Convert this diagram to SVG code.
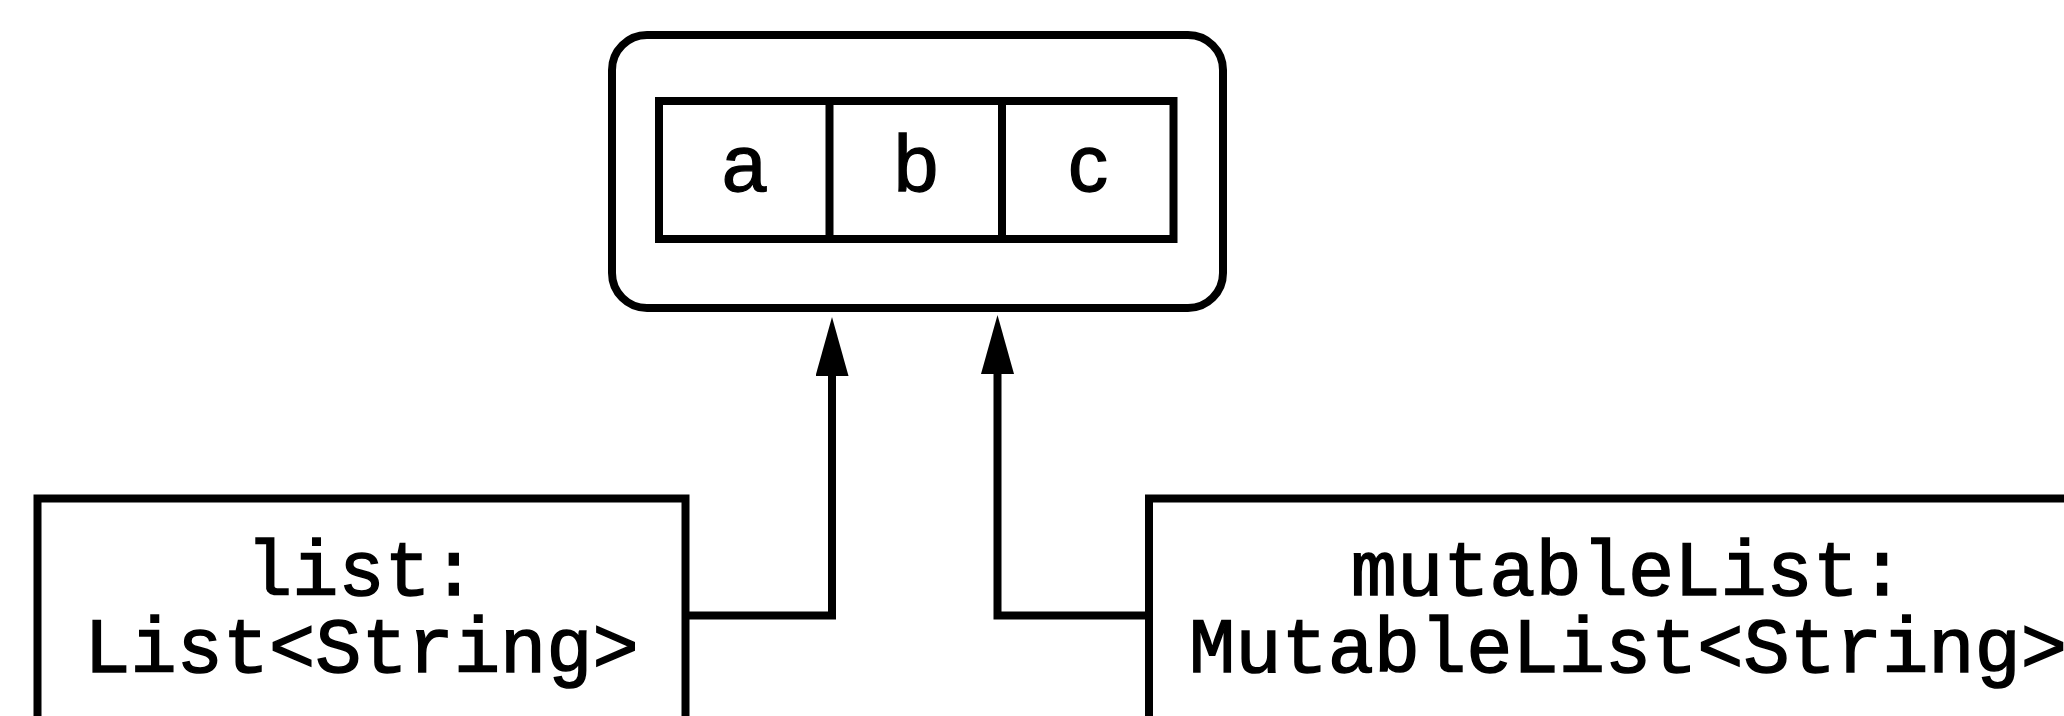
<svg xmlns="http://www.w3.org/2000/svg" width="2064" height="716" viewBox="0 0 2064 716">
<style>
.box{fill:#fff;stroke:#000;stroke-width:8}
.cell{fill:none;stroke:#000;stroke-width:8}
.edge{fill:none;stroke:#000;stroke-width:8;stroke-linejoin:miter}
.lt{font-family:"Liberation Sans",Arial,Helvetica,sans-serif;font-size:80px;fill:#000;stroke:#000;stroke-width:1.3;text-anchor:middle}
.mono{font-family:"Courier New",Courier,"Nimbus Mono PS","Liberation Mono",monospace;font-size:77px;fill:#000;stroke:#000;stroke-width:1.5;text-anchor:middle}
</style>
<defs>
<marker id="arr" markerUnits="userSpaceOnUse" viewBox="0 0 59 33" markerWidth="59" markerHeight="33" refX="0" refY="16.5" orient="auto">
<path d="M0,0 L59,16.5 L0,33 z" fill="#000"/>
</marker>
</defs>
<rect width="2064" height="716" fill="#fff"/>
<g id="array">
<rect class="box" x="612" y="35" width="611" height="273" rx="35" ry="35"/>
<rect class="cell" x="659" y="101" width="514.5" height="138"/>
<line class="cell" x1="829.5" y1="101" x2="829.5" y2="239"/>
<line class="cell" x1="1002" y1="101" x2="1002" y2="239"/>
<text class="lt" x="744" y="191">a</text>
<text class="lt" x="916" y="191">b</text>
<text class="lt" x="1088" y="191">c</text>
</g>
<g id="list">
<rect class="box" x="37.5" y="498.5" width="648" height="280"/>
<text class="mono" x="361.5" y="595">list:</text>
<text class="mono" x="361.5" y="672">List&lt;String&gt;</text>
</g>
<g id="mutableList">
<rect class="box" x="1149" y="498.5" width="958" height="280"/>
<text class="mono" x="1628" y="595">mutableList:</text>
<text class="mono" x="1628" y="672">MutableList&lt;String&gt;</text>
</g>
<g id="connectors">
<path class="edge" d="M685.5,615.5 H832 V376" marker-end="url(#arr)"/>
<path class="edge" d="M1149,615.5 H997.5 V374" marker-end="url(#arr)"/>
</g>
</svg>
